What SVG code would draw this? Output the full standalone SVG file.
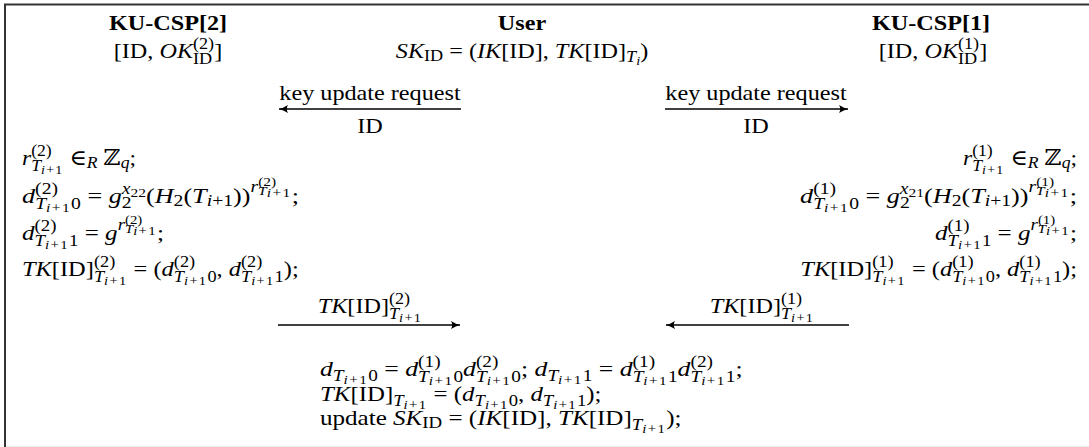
<svg xmlns="http://www.w3.org/2000/svg" width="1089" height="447" viewBox="0 0 1089 447">
<style>
text{font-family:"Liberation Serif","DejaVu Serif",serif;font-size:22px;fill:#000}
.i{font-style:italic}
.s{font-size:16.5px}
.ss{font-size:13px}
.p{letter-spacing:1.2px}
.b{font-weight:bold}
.ar{stroke:#000;stroke-width:1.3;fill:none;marker-end:url(#ah)}
.fr{stroke:#333;stroke-width:2;fill:none}
</style>
<defs>
<marker id="ah" markerUnits="userSpaceOnUse" markerWidth="12" markerHeight="10" viewBox="-10 -5 12 10" refX="0" refY="0" orient="auto">
<path d="M-9,-4 Q-4,-0.8 0,0 Q-4,0.8 -9,4 Q-6.5,0 -9,-4Z" fill="#000"/>
</marker>
</defs>
<rect width="1089" height="447" fill="#fff"/>
<g id="frame">
<path class="fr" d="M4,4.5H1089M5,4V447"/>
<path d="M6,446.5H1089" stroke="#ececec" stroke-width="1"/>
</g>
<g id="kucsp2">
<text class="b" text-anchor="middle" transform="translate(168,30) scale(1.1 1)">KU-CSP[2]</text>
<text text-anchor="middle" transform="translate(168,58) scale(1.1 1)">[ID, <tspan class="i">OK</tspan><tspan class="s" dy="-9">(2)</tspan><tspan class="s" dx="-19.2" dy="14.5">ID</tspan><tspan dx="1.8" dy="-5.5">]</tspan></text>
</g>
<g id="user">
<text class="b" text-anchor="middle" transform="translate(522,30) scale(1.1 1)">User</text>
<text text-anchor="middle" transform="translate(522,58) scale(1.1 1)"><tspan class="i">SK</tspan><tspan class="s" dy="3.3">ID</tspan><tspan dy="-3.3"> = (</tspan><tspan class="i">IK</tspan>[ID], <tspan class="i">TK</tspan>[ID]<tspan class="s i" dy="4">T</tspan><tspan class="ss i" dy="2.5">i</tspan><tspan dy="-6.5">)</tspan></text>
</g>
<g id="kucsp1">
<text class="b" text-anchor="middle" transform="translate(931,30) scale(1.1 1)">KU-CSP[1]</text>
<text text-anchor="middle" transform="translate(933,58) scale(1.1 1)">[ID, <tspan class="i">OK</tspan><tspan class="s" dy="-9">(1)</tspan><tspan class="s" dx="-19.2" dy="14.5">ID</tspan><tspan dx="1.8" dy="-5.5">]</tspan></text>
</g>
<g id="kucsp2-calc">
<text transform="translate(22,165) scale(1.07 1)"><tspan class="i">r</tspan><tspan class="s" dy="-9">(2)</tspan><tspan class="s i" dx="-19.2" dy="15">T</tspan><tspan class="ss p" dy="3"><tspan class="i">i</tspan>+1</tspan><tspan dy="-9"> ∈</tspan><tspan class="s i" dy="3.3">R</tspan><tspan dy="-3.3"> ℤ</tspan><tspan class="s i" dy="3.3">q</tspan><tspan dy="-3.3">;</tspan></text>
<text transform="translate(22,203) scale(1.19 1)"><tspan class="i">d</tspan><tspan class="s" dy="-9">(2)</tspan><tspan class="s i" dx="-19.2" dy="15">T</tspan><tspan class="ss p" dy="3"><tspan class="i">i</tspan>+1</tspan><tspan class="s" dy="-3">0</tspan><tspan dy="-6"> = </tspan><tspan class="i">g</tspan><tspan class="s" dy="5">2</tspan><tspan class="s i" dx="-8.3" dy="-14">x</tspan><tspan class="ss" dy="3">22</tspan><tspan dy="6">(</tspan><tspan class="i">H</tspan><tspan class="s" dy="3.3">2</tspan><tspan dy="-3.3">(</tspan><tspan class="i">T</tspan><tspan class="s" dy="3.3"><tspan class="i">i</tspan>+1</tspan><tspan dy="-3.3">))</tspan><tspan class="s i" dy="-11">r</tspan><tspan class="ss" dy="-6">(2)</tspan><tspan class="ss i" dx="-15.2" dy="9">T</tspan><tspan class="ss p" dy="2"><tspan class="i">i</tspan>+1</tspan><tspan dy="6">;</tspan></text>
<text transform="translate(22,240) scale(1.14 1)"><tspan class="i">d</tspan><tspan class="s" dy="-9">(2)</tspan><tspan class="s i" dx="-19.2" dy="15">T</tspan><tspan class="ss p" dy="3"><tspan class="i">i</tspan>+1</tspan><tspan class="s" dy="-3">1</tspan><tspan dy="-6"> = </tspan><tspan class="i">g</tspan><tspan class="s i" dy="-10">r</tspan><tspan class="ss" dy="-6">(2)</tspan><tspan class="ss i" dx="-15.2" dy="9">T</tspan><tspan class="ss p" dy="2"><tspan class="i">i</tspan>+1</tspan><tspan dy="5">;</tspan></text>
<text transform="translate(22,276) scale(1.11 1)"><tspan class="i">TK</tspan>[ID]<tspan class="s" dy="-9">(2)</tspan><tspan class="s i" dx="-19.2" dy="15">T</tspan><tspan class="ss p" dy="3"><tspan class="i">i</tspan>+1</tspan><tspan dy="-9"> = (</tspan><tspan class="i">d</tspan><tspan class="s" dy="-9">(2)</tspan><tspan class="s i" dx="-19.2" dy="15">T</tspan><tspan class="ss p" dy="3"><tspan class="i">i</tspan>+1</tspan><tspan class="s" dy="-3">0</tspan><tspan dy="-6">, </tspan><tspan class="i">d</tspan><tspan class="s" dy="-9">(2)</tspan><tspan class="s i" dx="-19.2" dy="15">T</tspan><tspan class="ss p" dy="3"><tspan class="i">i</tspan>+1</tspan><tspan class="s" dy="-3">1</tspan><tspan dy="-6">);</tspan></text>
</g>
<g id="kucsp1-calc">
<text text-anchor="end" transform="translate(1077,165) scale(1.07 1)"><tspan class="i">r</tspan><tspan class="s" dy="-9">(1)</tspan><tspan class="s i" dx="-19.2" dy="15">T</tspan><tspan class="ss p" dy="3"><tspan class="i">i</tspan>+1</tspan><tspan dy="-9"> ∈</tspan><tspan class="s i" dy="3.3">R</tspan><tspan dy="-3.3"> ℤ</tspan><tspan class="s i" dy="3.3">q</tspan><tspan dy="-3.3">;</tspan></text>
<text text-anchor="end" transform="translate(1077,203) scale(1.19 1)"><tspan class="i">d</tspan><tspan class="s" dy="-9">(1)</tspan><tspan class="s i" dx="-19.2" dy="15">T</tspan><tspan class="ss p" dy="3"><tspan class="i">i</tspan>+1</tspan><tspan class="s" dy="-3">0</tspan><tspan dy="-6"> = </tspan><tspan class="i">g</tspan><tspan class="s" dy="5">2</tspan><tspan class="s i" dx="-8.3" dy="-14">x</tspan><tspan class="ss" dy="3">21</tspan><tspan dy="6">(</tspan><tspan class="i">H</tspan><tspan class="s" dy="3.3">2</tspan><tspan dy="-3.3">(</tspan><tspan class="i">T</tspan><tspan class="s" dy="3.3"><tspan class="i">i</tspan>+1</tspan><tspan dy="-3.3">))</tspan><tspan class="s i" dy="-11">r</tspan><tspan class="ss" dy="-6">(1)</tspan><tspan class="ss i" dx="-15.2" dy="9">T</tspan><tspan class="ss p" dy="2"><tspan class="i">i</tspan>+1</tspan><tspan dy="6">;</tspan></text>
<text text-anchor="end" transform="translate(1077,240) scale(1.14 1)"><tspan class="i">d</tspan><tspan class="s" dy="-9">(1)</tspan><tspan class="s i" dx="-19.2" dy="15">T</tspan><tspan class="ss p" dy="3"><tspan class="i">i</tspan>+1</tspan><tspan class="s" dy="-3">1</tspan><tspan dy="-6"> = </tspan><tspan class="i">g</tspan><tspan class="s i" dy="-10">r</tspan><tspan class="ss" dy="-6">(1)</tspan><tspan class="ss i" dx="-15.2" dy="9">T</tspan><tspan class="ss p" dy="2"><tspan class="i">i</tspan>+1</tspan><tspan dy="5">;</tspan></text>
<text text-anchor="end" transform="translate(1077,276) scale(1.11 1)"><tspan class="i">TK</tspan>[ID]<tspan class="s" dy="-9">(1)</tspan><tspan class="s i" dx="-19.2" dy="15">T</tspan><tspan class="ss p" dy="3"><tspan class="i">i</tspan>+1</tspan><tspan dy="-9"> = (</tspan><tspan class="i">d</tspan><tspan class="s" dy="-9">(1)</tspan><tspan class="s i" dx="-19.2" dy="15">T</tspan><tspan class="ss p" dy="3"><tspan class="i">i</tspan>+1</tspan><tspan class="s" dy="-3">0</tspan><tspan dy="-6">, </tspan><tspan class="i">d</tspan><tspan class="s" dy="-9">(1)</tspan><tspan class="s i" dx="-19.2" dy="15">T</tspan><tspan class="ss p" dy="3"><tspan class="i">i</tspan>+1</tspan><tspan class="s" dy="-3">1</tspan><tspan dy="-6">);</tspan></text>
</g>
<g id="user-calc">
<text transform="translate(320,376) scale(1.17 1)"><tspan class="i">d</tspan><tspan class="s i" dy="5">T</tspan><tspan class="ss p" dy="3"><tspan class="i">i</tspan>+1</tspan><tspan class="s" dy="-3">0</tspan><tspan dy="-5"> = </tspan><tspan class="i">d</tspan><tspan class="s" dy="-9">(1)</tspan><tspan class="s i" dx="-19.2" dy="15">T</tspan><tspan class="ss p" dy="3"><tspan class="i">i</tspan>+1</tspan><tspan class="s" dy="-3">0</tspan><tspan class="i" dy="-6">d</tspan><tspan class="s" dy="-9">(2)</tspan><tspan class="s i" dx="-19.2" dy="15">T</tspan><tspan class="ss p" dy="3"><tspan class="i">i</tspan>+1</tspan><tspan class="s" dy="-3">0</tspan><tspan dy="-6">; </tspan><tspan class="i">d</tspan><tspan class="s i" dy="5">T</tspan><tspan class="ss p" dy="3"><tspan class="i">i</tspan>+1</tspan><tspan class="s" dy="-3">1</tspan><tspan dy="-5"> = </tspan><tspan class="i">d</tspan><tspan class="s" dy="-9">(1)</tspan><tspan class="s i" dx="-19.2" dy="15">T</tspan><tspan class="ss p" dy="3"><tspan class="i">i</tspan>+1</tspan><tspan class="s" dy="-3">1</tspan><tspan class="i" dy="-6">d</tspan><tspan class="s" dy="-9">(2)</tspan><tspan class="s i" dx="-19.2" dy="15">T</tspan><tspan class="ss p" dy="3"><tspan class="i">i</tspan>+1</tspan><tspan class="s" dy="-3">1</tspan><tspan dy="-6">;</tspan></text>
<text transform="translate(320,401) scale(1.13 1)"><tspan class="i">TK</tspan>[ID]<tspan class="s i" dy="5">T</tspan><tspan class="ss p" dy="3"><tspan class="i">i</tspan>+1</tspan><tspan dy="-8"> = (</tspan><tspan class="i">d</tspan><tspan class="s i" dy="5">T</tspan><tspan class="ss p" dy="3"><tspan class="i">i</tspan>+1</tspan><tspan class="s" dy="-3">0</tspan><tspan dy="-5">, </tspan><tspan class="i">d</tspan><tspan class="s i" dy="5">T</tspan><tspan class="ss p" dy="3"><tspan class="i">i</tspan>+1</tspan><tspan class="s" dy="-3">1</tspan><tspan dy="-5">);</tspan></text>
<text transform="translate(320,425) scale(1.14 1)">update <tspan class="i">SK</tspan><tspan class="s" dy="3.3">ID</tspan><tspan dy="-3.3"> = (</tspan><tspan class="i">IK</tspan>[ID], <tspan class="i">TK</tspan>[ID]<tspan class="s i" dy="5">T</tspan><tspan class="ss p" dy="3"><tspan class="i">i</tspan>+1</tspan><tspan dy="-8">);</tspan></text>
</g>
<g id="connectors">
<path class="ar" d="M461,109H279"/>
<text text-anchor="middle" transform="translate(370,100) scale(1.1 1)">key update request</text>
<text text-anchor="middle" transform="translate(370,133) scale(1.1 1)">ID</text>
<path class="ar" d="M665,109H848"/>
<text text-anchor="middle" transform="translate(756,100) scale(1.1 1)">key update request</text>
<text text-anchor="middle" transform="translate(756,133) scale(1.1 1)">ID</text>
<path class="ar" d="M278,325H460"/>
<text text-anchor="middle" transform="translate(370,313) scale(1.1 1)"><tspan class="i">TK</tspan>[ID]<tspan class="s" dy="-9">(2)</tspan><tspan class="s i" dx="-19.2" dy="15">T</tspan><tspan class="ss p" dy="3"><tspan class="i">i</tspan>+1</tspan></text>
<path class="ar" d="M849,325H666"/>
<text text-anchor="middle" transform="translate(762,313) scale(1.1 1)"><tspan class="i">TK</tspan>[ID]<tspan class="s" dy="-9">(1)</tspan><tspan class="s i" dx="-19.2" dy="15">T</tspan><tspan class="ss p" dy="3"><tspan class="i">i</tspan>+1</tspan></text>
</g>
</svg>
